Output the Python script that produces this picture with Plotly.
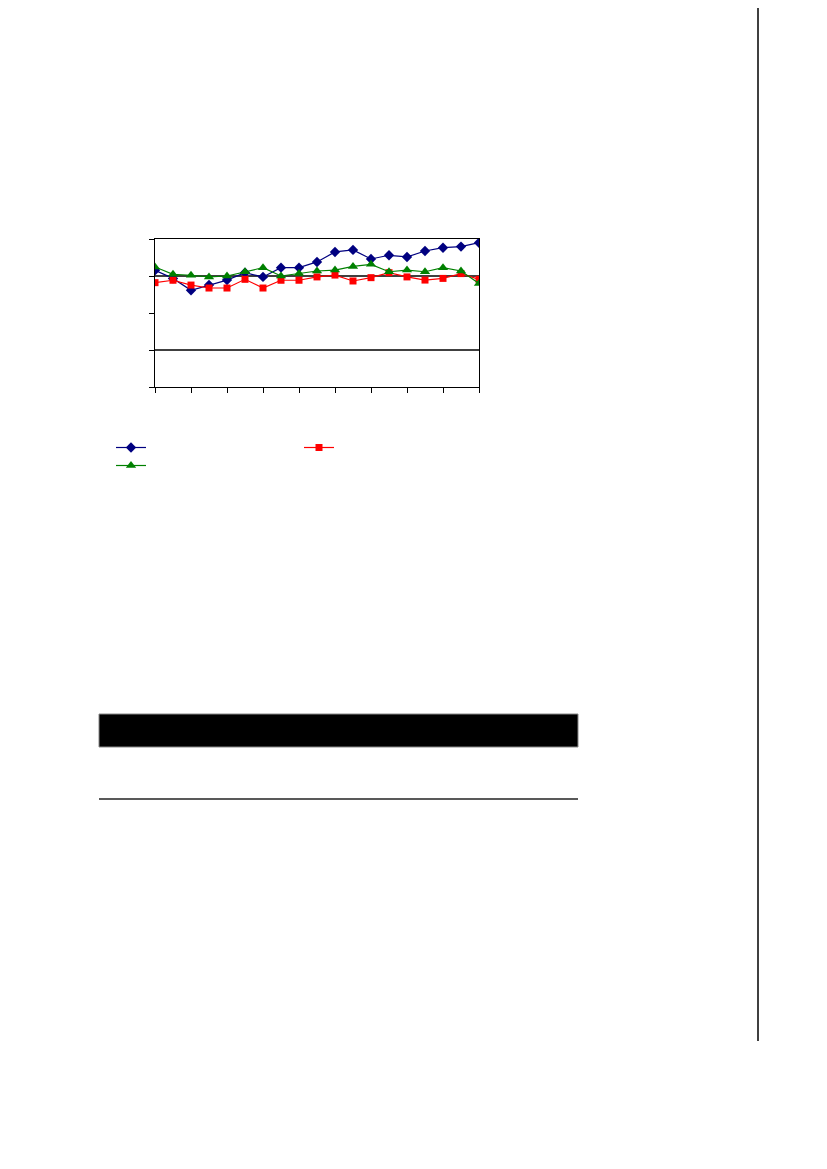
import plotly.graph_objects as go

W, H = 827, 1169
# the page body adds a small margin; positions below are in screenshot pixels
OX, OY = 8, 7

periods = list(range(19))
x_ticks = list(range(0, 19, 2))
y_ticks = [40, 60, 80, 100, 120]
ref_lines = [100, 60]

series_blue = [103.1, 98.7, 92.3, 95.1, 97.8, 101.8, 99.5, 104.5, 104.5, 107.6,
               113.0, 114.1, 109.2, 111.2, 110.3, 113.5, 115.3, 115.9, 118.0]
series_red = [96.4, 97.7, 95.1, 93.5, 93.5, 98.2, 93.5, 97.7, 97.7, 99.5,
              100.5, 97.3, 99.1, 101.8, 99.5, 97.8, 98.7, 101.3, 98.2]
series_green = [104.9, 100.9, 100.4, 99.5, 100.0, 102.3, 104.5, 100.0, 101.3, 102.7,
                103.2, 105.2, 106.3, 102.3, 103.2, 102.3, 104.5, 102.7, 95.9]


def px_x(p):
    return (p - OX) / W


def px_y(p):
    return 1 - (p - OY) / H


fig = go.Figure()
fig.add_trace(go.Scatter(x=periods, y=series_blue, mode='lines+markers', name=' ',
                         line=dict(color='#000080', width=1.2),
                         marker=dict(symbol='diamond', size=8, color='#000080'),
                         legend='legend'))
fig.add_trace(go.Scatter(x=periods, y=series_red, mode='lines+markers', name='  ',
                         line=dict(color='#FF0000', width=1.2),
                         marker=dict(symbol='square', size=7, color='#FF0000'),
                         legend='legend'))
fig.add_trace(go.Scatter(x=periods, y=series_green, mode='lines+markers', name='   ',
                         line=dict(color='#008000', width=1.2),
                         marker=dict(symbol='triangle-up', size=9, color='#008000'),
                         legend='legend2'))

for v in ref_lines:
    fig.add_hline(y=v, line_color='black', line_width=1.3, layer='below')

shapes = [
    # black band
    dict(type='rect', xref='paper', yref='paper', x0=px_x(99), x1=px_x(578),
         y0=px_y(746), y1=px_y(713), fillcolor='black', line=dict(color='#888888', width=1)),
    # rule below band
    dict(type='line', xref='paper', yref='paper', x0=px_x(99), x1=px_x(578),
         y0=px_y(798), y1=px_y(798), line=dict(color='#222222', width=1.5)),
    # right margin rule
    dict(type='line', xref='paper', yref='paper', x0=px_x(758), x1=px_x(758),
         y0=px_y(0), y1=px_y(1040), line=dict(color='black', width=1.5)),
]
for s in shapes:
    fig.add_shape(**s)

axis_common = dict(showline=True, linecolor='black', linewidth=1, mirror=True,
                   ticks='outside', ticklen=5, tickcolor='black', tickwidth=1,
                   showticklabels=False, showgrid=False, zeroline=False)

fig.update_layout(
    width=W, height=H,
    margin=dict(l=0, r=0, t=0, b=0),
    paper_bgcolor='white', plot_bgcolor='white',
    font=dict(family='Liberation Sans', size=10, color='black'),
    xaxis=dict(domain=[px_x(155), px_x(479)], range=[0, 18],
               tickmode='array', tickvals=x_ticks, **axis_common),
    yaxis=dict(domain=[px_y(386), px_y(238)], range=[40, 120],
               tickmode='array', tickvals=y_ticks, **axis_common),
    legend=dict(orientation='h', x=px_x(111), y=px_y(432), xanchor='left', yanchor='top',
                entrywidth=143, entrywidthmode='pixels', bgcolor='rgba(0,0,0,0)',
                itemclick=False),
    legend2=dict(orientation='h', x=px_x(111), y=px_y(450), xanchor='left', yanchor='top',
                 bgcolor='rgba(0,0,0,0)', itemclick=False),
    showlegend=True,
)

fig.write_html("out.html")
